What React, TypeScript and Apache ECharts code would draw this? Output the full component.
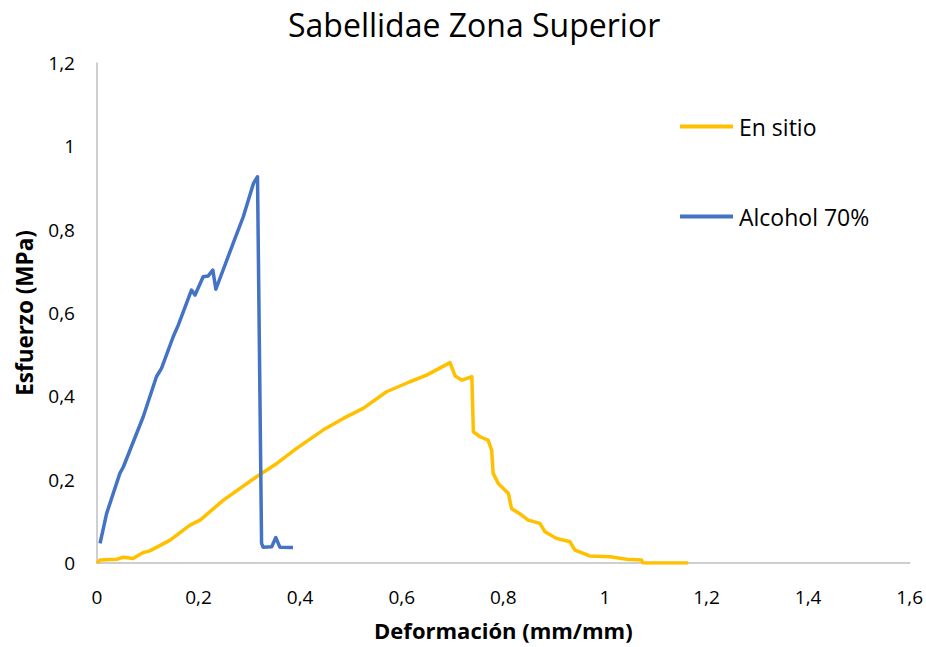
import React, { useEffect, useRef } from "react";
import * as echarts from "echarts";

const titleText = "Sabellidae Zona Superior";
const xAxisName = "Deformación (mm/mm)";
const yAxisName = "Esfuerzo (MPa)";

const enSitioX = [0, 0.006, 0.039, 0.052, 0.071, 0.091, 0.104, 0.144, 0.183, 0.203, 0.249, 0.314, 0.354, 0.393, 0.445, 0.485, 0.524, 0.57, 0.616, 0.649, 0.695, 0.705, 0.718, 0.738, 0.741, 0.754, 0.77, 0.777, 0.78, 0.79, 0.81, 0.816, 0.836, 0.849, 0.872, 0.882, 0.905, 0.931, 0.941, 0.97, 1.01, 1.043, 1.072, 1.075, 1.164];
const enSitioY = [0, 0.007, 0.009, 0.014, 0.011, 0.025, 0.029, 0.055, 0.091, 0.103, 0.151, 0.207, 0.239, 0.275, 0.319, 0.347, 0.371, 0.411, 0.435, 0.451, 0.481, 0.449, 0.439, 0.447, 0.315, 0.303, 0.295, 0.271, 0.215, 0.191, 0.167, 0.131, 0.115, 0.103, 0.095, 0.075, 0.059, 0.051, 0.031, 0.017, 0.015, 0.009, 0.007, 0, 0];

const alcoholX = [0.006, 0.019, 0.045, 0.052, 0.091, 0.117, 0.127, 0.15, 0.16, 0.186, 0.193, 0.209, 0.219, 0.228, 0.234, 0.268, 0.288, 0.308, 0.316, 0.324, 0.327, 0.344, 0.352, 0.36, 0.386];
const alcoholY = [0.047, 0.119, 0.215, 0.231, 0.351, 0.447, 0.467, 0.543, 0.571, 0.655, 0.643, 0.687, 0.689, 0.703, 0.657, 0.767, 0.831, 0.911, 0.927, 0.047, 0.038, 0.039, 0.061, 0.038, 0.037];

const FONT = "'Open Sans', sans-serif";

const fmt = (v: number) => String(Math.round(v * 10) / 10).replace(".", ",");

export default function App() {
  const ref = useRef<HTMLDivElement>(null);
  useEffect(() => {
    if (!ref.current) return;
    const chart = echarts.init(ref.current, null, { renderer: "svg" });
    chart.setOption({
      animation: false,
      backgroundColor: "#ffffff",
      title: {
        text: titleText,
        left: 283,
        top: 3,
        textStyle: { fontFamily: FONT, fontSize: 32, fontWeight: "normal", color: "#000" },
      },
      legend: {
        orient: "vertical",
        left: 675,
        top: 110,
        icon: "rect",
        itemWidth: 53,
        itemHeight: 4,
        itemGap: 67,
        textStyle: { fontFamily: FONT, fontSize: 23, color: "#000", padding: [0, 0, 0, 1] },
        data: ["En sitio", "Alcohol 70%"],
      },
      grid: { left: 97, right: 16, top: 63, bottom: 84 },
      xAxis: {
        type: "value",
        min: 0,
        max: 1.6,
        interval: 0.2,
        name: xAxisName,
        nameLocation: "middle",
        nameGap: 56,
        nameTextStyle: { fontFamily: FONT, fontSize: 22, fontWeight: "bold", color: "#000" },
        axisLine: { show: true, lineStyle: { color: "#bfbfbf", width: 1.5 } },
        axisTick: { show: false },
        splitLine: { show: false },
        axisLabel: { formatter: fmt, fontFamily: FONT, fontSize: 19, color: "#000", margin: 24 },
      },
      yAxis: {
        type: "value",
        min: 0,
        max: 1.2,
        interval: 0.2,
        name: yAxisName,
        nameLocation: "middle",
        nameGap: 61,
        nameTextStyle: { fontFamily: FONT, fontSize: 22.5, fontWeight: "bold", color: "#000" },
        axisLine: { show: true, lineStyle: { color: "#bfbfbf", width: 1.5 } },
        axisTick: { show: false },
        splitLine: { show: false },
        axisLabel: { formatter: fmt, fontFamily: FONT, fontSize: 19, color: "#000", margin: 22 },
      },
      series: [
        {
          name: "En sitio",
          type: "line",
          symbol: "none",
          color: "#FFC000",
          lineStyle: { width: 3.5, color: "#FFC000", join: "round" },
          data: enSitioX.map((x, i) => [x, enSitioY[i]]),
        },
        {
          name: "Alcohol 70%",
          type: "line",
          symbol: "none",
          color: "#4472C4",
          lineStyle: { width: 3.5, color: "#4472C4", join: "round" },
          data: alcoholX.map((x, i) => [x, alcoholY[i]]),
        },
      ],
    });
    return () => chart.dispose();
  }, []);
  return <div ref={ref} style={{ width: 926, height: 647, position: "absolute", left: 0, top: 0 }} />;
}
